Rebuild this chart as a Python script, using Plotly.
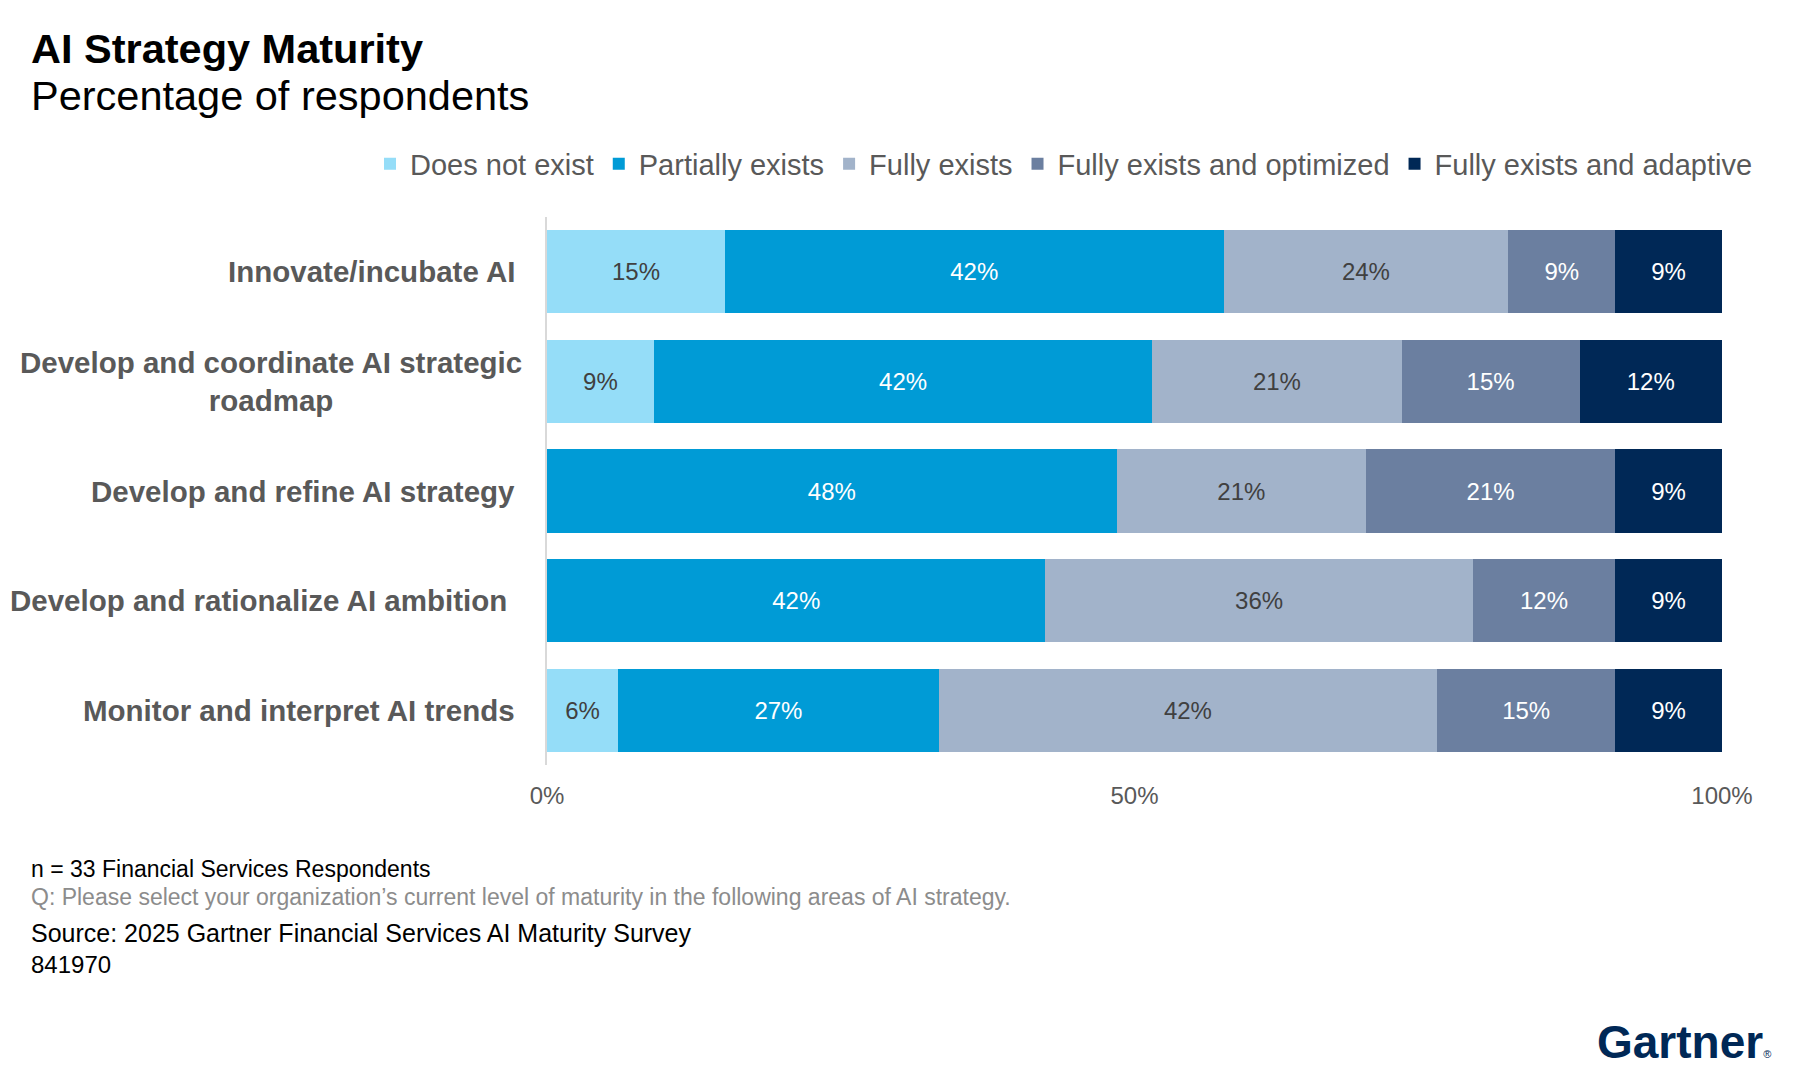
import plotly.graph_objects as go

categories = [
    "Innovate/incubate AI",
    "Develop and coordinate AI strategic<br>roadmap",
    "Develop and refine AI strategy",
    "Develop and rationalize AI ambition",
    "Monitor and interpret AI trends",
]
series_names = ["Does not exist", "Partially exists", "Fully exists",
                "Fully exists and optimized", "Fully exists and adaptive"]
does_not_exist = [15, 9, 0, 0, 6]
partially_exists = [42, 42, 48, 42, 27]
fully_exists = [24, 21, 21, 36, 42]
fully_optimized = [9, 15, 21, 12, 15]
fully_adaptive = [9, 12, 9, 9, 9]
series_values = [does_not_exist, partially_exists, fully_exists, fully_optimized, fully_adaptive]
x_ticks = [0, 50, 100]
x_tick_labels = ["0%", "50%", "100%"]

colors = ["#95DDF8", "#009BD6", "#A2B3CA", "#6B7FA0", "#002856"]
text_colors = ["#404040", "#FFFFFF", "#404040", "#FFFFFF", "#FFFFFF"]

FONT = "Liberation Sans, Arial, sans-serif"
W_FIG, H_FIG = 1800, 1079
L, R, T, B = 547, 1722, 217, 765
PW, PH = R - L, B - T


def px(x):
    return (x - L) / PW


def py(y):
    return (B - y) / PH


fig = go.Figure()
for name, vals, col, tcol in zip(series_names, series_values, colors, text_colors):
    fig.add_trace(go.Bar(
        y=categories, x=vals, name=name, orientation="h",
        marker=dict(color=col, line=dict(width=0)),
        text=[f"{v}%" if v > 0 else "" for v in vals],
        textposition="inside", insidetextanchor="middle", textangle=0,
        textfont=dict(family=FONT, size=24, color=tcol),
        hoverinfo="skip",
    ))

label_right = [517, 524, 517, 509, 517]
annotations = []
for cat, xr in zip(categories, label_right):
    annotations.append(dict(
        x=px(xr), xref="paper", y=cat, yref="y", text=f"<b>{cat}</b>",
        showarrow=False, xanchor="right", yanchor="middle", align="center",
        font=dict(family=FONT, size=29.5, color="#595959"),
    ))

texts = [
    ("<b>AI Strategy Maturity</b>", 29, 49, 41.5, "#000000"),
    ("Percentage of respondents", 29, 96, 41.5, "#000000"),
    ("n = 33 Financial Services Respondents", 29, 869, 23, "#000000"),
    ("Q: Please select your organization’s current level of maturity in the following areas of AI strategy.", 29, 897, 23, "#8C8C8C"),
    ("Source: 2025 Gartner Financial Services AI Maturity Survey", 29, 933, 25, "#000000"),
    ("841970", 29, 964, 24, "#000000"),
]
for t, x, y, s, c in texts:
    annotations.append(dict(
        x=px(x), y=py(y), xref="paper", yref="paper", text=t, showarrow=False,
        xanchor="left", yanchor="middle", align="left",
        font=dict(family=FONT, size=s, color=c),
    ))

annotations.append(dict(
    x=px(1773), y=py(1042), xref="paper", yref="paper",
    text="<b>Gartner</b><span style='font-size:11px'>®</span>", showarrow=False,
    xanchor="right", yanchor="middle",
    font=dict(family=FONT, size=46, color="#002856"),
))

fig.update_layout(
    width=W_FIG, height=H_FIG,
    margin=dict(l=L, r=W_FIG - R, t=T, b=H_FIG - B, pad=0),
    paper_bgcolor="white", plot_bgcolor="white",
    barmode="stack", barnorm="percent", bargap=0.24,
    font=dict(family=FONT, color="#595959"),
    showlegend=True,
    legend=dict(
        orientation="h", x=px(370), xanchor="left", y=py(164), yanchor="middle",
        font=dict(family=FONT, size=29, color="#595959"),
        traceorder="normal", itemwidth=30, bgcolor="rgba(0,0,0,0)",
    ),
    xaxis=dict(
        range=[0, 100], tickvals=x_ticks, ticktext=x_tick_labels,
        showgrid=False, zeroline=False, showline=False, ticks="",
        tickfont=dict(family=FONT, size=24, color="#595959"),
        ticklabelstandoff=14, fixedrange=True,
    ),
    yaxis=dict(
        autorange="reversed", showticklabels=False, showgrid=False,
        showline=True, linecolor="#D9D9D9", linewidth=1.5, ticks="",
        zeroline=False, fixedrange=True,
    ),
    annotations=annotations,
)

fig.write_html("out.html", config={"displayModeBar": False})
